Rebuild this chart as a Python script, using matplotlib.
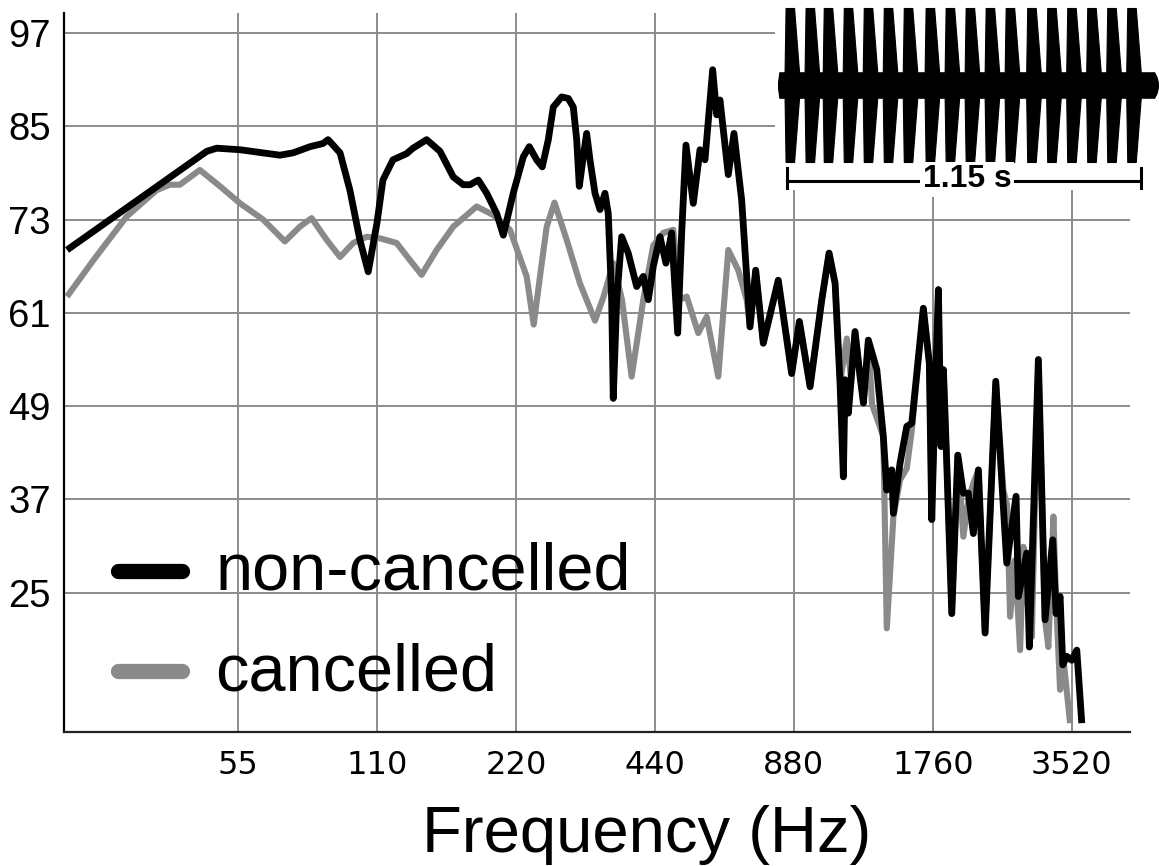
import numpy as np
import matplotlib
matplotlib.use("Agg")
import matplotlib.pyplot as plt
from matplotlib.lines import Line2D

# ---------------- data ----------------
freq_noncancelled = [
    23.4, 47.0, 49.4, 55.5, 67.7, 72.3, 78.7, 83.9, 86.1, 91.4,
    96.0, 100.9, 105.2, 109.9, 113.2, 119.0, 127.4, 131.5, 140.8, 150.5,
    160.8, 169.0, 174.8, 182.2, 190.0, 199.7, 206.4, 216.9, 228.1, 235.0,
    243.8, 250.7, 258.4, 264.9, 276.2, 285.5, 292.7, 297.7, 301.6, 307.6,
    312.9, 318.1, 326.2, 334.4, 342.8, 348.5, 354.5, 357.3, 363.5, 372.6,
    385.0, 401.6, 415.1, 425.6, 436.3, 451.1, 464.8, 478.2, 492.8, 502.7,
    513.6, 532.7, 550.8, 564.7, 586.8, 598.7, 608.6, 634.3, 652.6, 678.2,
    706.9, 727.3, 755.3, 814.0, 870.4, 904.5, 954.1, 1011.5, 1049, 1081,
    1108, 1126.5, 1136, 1155, 1194, 1224.5, 1245, 1276, 1331, 1375,
    1399, 1434, 1446, 1495, 1546, 1585, 1679, 1730, 1751, 1780,
    1810, 1834, 1856, 1887, 1935, 1994, 2050, 2102, 2155, 2210,
    2285, 2410, 2546, 2667, 2698, 2813, 2850, 2981, 3082, 3203,
    3256, 3322, 3367, 3435, 3521, 3611, 3702]
level_noncancelled = [
    69.1, 81.8, 82.2, 82.0, 81.3, 81.6, 82.4, 82.8, 83.3, 81.6,
    76.8, 70.4, 66.3, 72.6, 78.1, 80.7, 81.5, 82.2, 83.3, 81.8,
    78.5, 77.5, 77.5, 78.1, 76.4, 73.8, 71.0, 76.4, 81.1, 82.4,
    80.7, 79.8, 83.3, 87.5, 88.8, 88.6, 87.5, 83.3, 77.3, 81.1,
    84.1, 80.7, 76.4, 74.3, 76.4, 73.8, 62.7, 50.0, 62.7, 70.8,
    68.7, 64.4, 65.7, 62.7, 67.0, 70.8, 67.4, 71.3, 58.4, 71.3,
    82.6, 75.1, 82.0, 80.7, 92.3, 86.5, 88.4, 78.8, 84.1, 75.5,
    59.2, 66.5, 57.1, 65.2, 53.2, 59.9, 51.5, 62.7, 68.7, 64.8,
    52.0, 39.9, 52.4, 48.1, 58.6, 52.8, 49.4, 57.5, 53.7, 45.1,
    38.2, 40.8, 35.2, 41.7, 46.4, 46.8, 61.6, 54.5, 34.4, 50.2,
    64.0, 43.8, 53.7, 41.7, 22.3, 42.7, 37.8, 37.8, 32.6, 40.8,
    19.8, 52.2, 28.8, 37.4, 24.5, 30.1, 18.0, 55.0, 21.5, 31.8,
    22.3, 24.5, 15.7, 16.8, 16.3, 17.6, 8.2]

freq_cancelled = [
    23.4, 26.7, 31.5, 36.6, 39.1, 41.1, 45.4, 50.2, 55.5, 62.3,
    65.5, 69.4, 74.8, 79.3, 85.5, 91.4, 97.6, 104.4, 111.5, 121.2,
    129.5, 137.3, 148.0, 160.8, 180.7, 196.4, 213.4, 231.9, 240.2, 247.9,
    256.3, 266.5, 283.2, 302.6, 326.2, 340.0, 357.3, 373.2, 391.6, 415.1,
    436.3, 458.6, 482.1, 498.5, 515.4, 546.1, 569.5, 603.4, 634.3, 666.8, 695.3,
    706.9, 727.3, 755.3, 814.0, 870.4, 904.5, 954.1, 1011.5, 1049, 1081,
    1108, 1146, 1171, 1194, 1224.5, 1245, 1276, 1300, 1375, 1399,
    1446, 1495, 1546, 1585, 1679, 1730, 1751, 1780, 1810, 1834,
    1856, 1887, 1935, 1994, 2050, 2102, 2155, 2210, 2285, 2410,
    2503, 2550, 2589, 2654, 2721, 2766, 2818, 2885, 2981, 3082,
    3133, 3213, 3256, 3322, 3389, 3492]
level_cancelled = [
    63.1, 67.8, 73.4, 76.8, 77.5, 77.5, 79.4, 77.3, 75.1, 73.0,
    71.7, 70.2, 72.1, 73.2, 70.4, 68.2, 70.0, 70.8, 70.6, 70.0,
    67.8, 65.9, 69.1, 72.1, 74.7, 73.6, 71.7, 65.7, 59.5, 65.7,
    72.1, 75.2, 70.4, 64.8, 60.0, 63.0, 67.4, 62.7, 52.8, 62.7,
    69.7, 71.3, 71.7, 62.7, 63.1, 58.4, 60.5, 52.8, 69.1, 66.5, 62.7,
    59.2, 66.5, 57.1, 65.2, 53.2, 59.9, 51.5, 62.7, 68.7, 64.8,
    52.0, 57.7, 52.4, 58.6, 52.8, 49.4, 57.5, 49.2, 45.1, 20.4,
    34.8, 39.5, 41.0, 45.9, 61.6, 54.5, 34.4, 50.2, 64.0, 43.8,
    53.7, 41.7, 22.3, 42.7, 32.2, 36.9, 39.1, 40.8, 19.8, 52.2,
    38.2, 36.3, 21.9, 29.2, 17.6, 30.9, 24.1, 19.3, 55.0, 21.5,
    18.0, 34.8, 24.1, 12.5, 15.7, 8.2]

xtick_freqs = [55, 110, 220, 440, 880, 1760, 3520]
ytick_levels = [25, 37, 49, 61, 73, 85, 97]
series_labels = ["non-cancelled", "cancelled"]
x_label = "Frequency (Hz)"

# inset waveform: time (s) of each pulse's top, one-pulse envelope outline
pulse_peak_times = [0.010, 0.075, 0.134, 0.199, 0.264, 0.329, 0.394, 0.465, 0.530,
                    0.595, 0.660, 0.725, 0.795, 0.860, 0.925, 0.990, 1.055, 1.120]
pulse_shape_dt = [-0.0179, -0.0146, 0.0130, 0.0292]
pulse_shape_amp = [0.165, 1.0, 1.0, 0.165]
baseline_amp = 0.165
waveform_span = (-0.029, 1.205)
scale_bar_seconds = 1.15
scale_bar_label = "1.15 s"

# ---------------- figure ----------------
W, H = 1159, 866
fig = plt.figure(figsize=(W / 100, H / 100), dpi=100)
plt.rcParams['font.family'] = ['Liberation Sans', 'DejaVu Sans']

ax = fig.add_axes([64 / W, 1 - 731.7 / H, (1130 - 64) / W, (731.7 - 13) / H])
ax.set_xscale('log')
ax.set_xlim(23.05, 4709)
ax.set_ylim(7.1, 99.6)

grey = '#8a8a8a'
ax.plot(freq_cancelled, level_cancelled, color=grey, lw=4.4,
        solid_joinstyle='round', solid_capstyle='butt', zorder=3)
ax.plot(freq_noncancelled, level_noncancelled, color='black', lw=4.9,
        solid_joinstyle='round', solid_capstyle='butt', zorder=4)

ax.set_xticks(xtick_freqs)
ax.set_xticklabels([str(f) for f in xtick_freqs], fontfamily='DejaVu Sans', fontsize=23)
ax.xaxis.set_minor_locator(matplotlib.ticker.NullLocator())
ax.set_yticks(ytick_levels)
ax.set_yticklabels([str(v) for v in ytick_levels], fontsize=27.5)
ax.tick_params(axis='x', length=0, pad=13)
ax.tick_params(axis='y', length=0, pad=9.5)
ax.grid(True, which='major', color='#8c8c8c', lw=1.4, zorder=1)
ax.set_axisbelow(True)
for s in ('top', 'right'):
    ax.spines[s].set_visible(False)
ax.spines['left'].set_linewidth(1.6)
ax.spines['bottom'].set_linewidth(1.6)
ax.spines['bottom'].set_color('#222222')

fig.text(646.5 / W, 1 - 851.7 / H, x_label, fontsize=47, ha='center', va='baseline')

handles = [Line2D([], [], color='black', lw=11, solid_capstyle='round'),
           Line2D([], [], color=grey, lw=11, solid_capstyle='round')]
ax.legend(handles, series_labels, loc='upper left',
          bbox_to_anchor=(117.5 / W, 1 - 542 / H), bbox_transform=fig.transFigure,
          frameon=False, fontsize=48, handlelength=0.97, handletextpad=0.5,
          handleheight=0.3, labelspacing=0.58, borderpad=0, borderaxespad=0)

# ---------------- inset waveform ----------------
inset_h = 190
axi = fig.add_axes([775 / W, 1 - inset_h / H, 384 / W, inset_h / H])
axi.set_facecolor('white')
for s in axi.spines.values():
    s.set_visible(False)
axi.set_xticks([])
axi.set_yticks([])
sec_per_px = scale_bar_seconds / 354.0
axi.set_xlim(-(787 - 775) * sec_per_px, (1159 - 787) * sec_per_px)
axi.set_ylim(-(inset_h - 85) / 77.0, 85 / 77.0)

env_t = [waveform_span[0], waveform_span[0] + 0.004]
env_a = [0.04, baseline_amp]
for tp in pulse_peak_times:
    for dt, a in zip(pulse_shape_dt, pulse_shape_amp):
        env_t.append(tp + dt)
        env_a.append(a)
env_t += [waveform_span[1] - 0.012, waveform_span[1] - 0.004, waveform_span[1]]
env_a += [baseline_amp, 0.10, 0.03]
env_t = np.array(env_t)
env_a = np.array(env_a)
axi.fill_between(env_t, -env_a, env_a, color='black', lw=0.8)

yb = -(181 - 85) / 77.0
axi.plot([0, scale_bar_seconds], [yb, yb], color='black', lw=2.2, solid_capstyle='butt')
axi.plot([0, 0], [yb - 0.095, yb + 0.165], color='black', lw=2.2)
axi.plot([scale_bar_seconds, scale_bar_seconds], [yb - 0.095, yb + 0.165], color='black', lw=2.2)
axi.text(scale_bar_seconds / 2 + 0.01, yb + 0.02, scale_bar_label, fontsize=23,
         fontweight='bold', ha='center', va='center',
         bbox=dict(facecolor='white', edgecolor='none', pad=1.5))

fig.savefig('out.png', dpi=100)
